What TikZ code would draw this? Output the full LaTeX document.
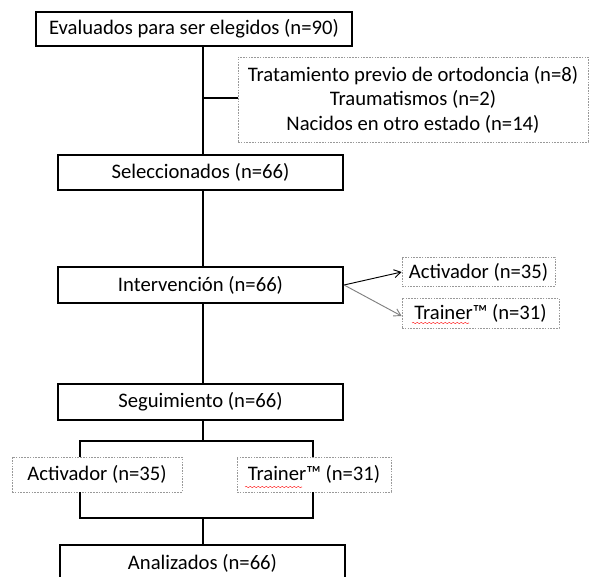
\documentclass[tikz,border=0pt]{standalone}
\usepackage{fontspec}
\setmainfont{Carlito}
\usetikzlibrary{arrows.meta,decorations.pathmorphing}
\begin{document}
\begin{tikzpicture}[x=0.75pt,y=-0.75pt,
  mainbox/.style={draw=black,line width=1.6pt,fill=white,inner sep=0pt,font=\fontsize{15.5}{18}\selectfont},
  dotbox/.style={draw=gray!80,line width=0.6pt,dash pattern=on 1.2pt off 0.9pt,inner sep=0pt,font=\fontsize{15.5}{18.4}\selectfont,align=center},
  conn/.style={line width=1.6pt},
  arr/.style={line width=0.7pt,-{Straight Barb[length=5pt,width=6pt]}},
  spell/.style={draw=red!80,line width=0.4pt,decorate,decoration={snake,amplitude=0.5pt,segment length=3pt}}]
\useasboundingbox (0,0) rectangle (590,577);
\clip (0,0) rectangle (590,577);
\node[mainbox,minimum width=316*0.75pt,minimum height=34*0.75pt] (b1) at (194,29) {Evaluados para ser elegidos (n=90)};
\node[dotbox,minimum width=350*0.75pt,minimum height=85*0.75pt] (ex) at (413,99.5) {Tratamiento previo de ortodoncia (n=8)\\Traumatismos (n=2)\\Nacidos en otro estado (n=14)};
\node[mainbox,minimum width=285*0.75pt,minimum height=35*0.75pt] (b2) at (200.5,172.5) {Seleccionados (n=66)};
\node[mainbox,minimum width=285*0.75pt,minimum height=36*0.75pt] (b3) at (200.5,285) {Intervención (n=66)};
\node[dotbox,minimum width=153*0.75pt,minimum height=29*0.75pt] (a1) at (478.5,272) {Activador (n=35)};
\node[dotbox,minimum width=157*0.75pt,minimum height=30*0.75pt] (t1) at (480.5,313) {Trainer™ (n=31)};
\node[mainbox,minimum width=285*0.75pt,minimum height=36*0.75pt] (b4) at (200.5,402) {Seguimiento (n=66)};
\node[dotbox,minimum width=170*0.75pt,minimum height=35*0.75pt] (a2) at (97,474.5) {Activador (n=35)};
\node[dotbox,minimum width=154*0.75pt,minimum height=35*0.75pt] (t2) at (314,474.5) {Trainer™ (n=31)};
\node[mainbox,minimum width=285*0.75pt,minimum height=50*0.75pt,text depth=0pt] (b5) at (202.5,570) {};
\node[font=\fontsize{15.5}{18}\selectfont] (b5t) at (202.5,563) {Analizados (n=66)};
% spine
\coordinate (s1) at (203,46);
\coordinate (j1) at (203,98);
\draw[conn] (b1.south -| s1) -- (b2.north -| s1);
\draw[conn] (j1) -- (ex.west |- j1);
\draw[conn] (b2.south -| s1) -- (b3.north -| s1);
\draw[conn] (b3.south -| s1) -- (b4.north -| s1);
\draw[arr] (b3.east) -- (a1.west);
\draw[arr,draw=gray] (b3.east) -- (t1.west |- 0,316);
% bottom bracket
\coordinate (l1) at (80,441);
\coordinate (r1) at (313,441);
\coordinate (l2) at (80,518);
\coordinate (r2) at (313,518);
\coordinate (m2) at (203,518);
\draw[conn] (b4.south -| s1) -- (s1 |- l1);
\draw[conn] (a2.north -| l1) -- (l1) -- (r1) -- (t2.north -| r1);
\draw[conn] (a2.south -| l1) -- (l2) -- (r2) -- (t2.south -| r2);
\draw[conn] (m2) -- (b5.north -| m2);
% spell-check underlines
\draw[spell] (412,323) -- (469,323);
\draw[spell] (245,487) -- (302,487);
\end{tikzpicture}
\end{document}
